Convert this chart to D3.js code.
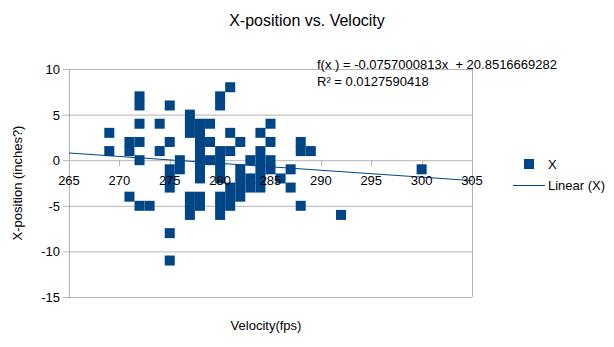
<!DOCTYPE html>
<html><head><meta charset="utf-8">
<script src="https://cdn.jsdelivr.net/npm/d3@7"></script>
<style>
body{margin:0;background:#fff}
svg{display:block;font-family:"Liberation Sans",Arial,sans-serif}
</style>
</head><body>
<svg id="chart" width="614" height="347"></svg>
<script>
// Velocity (fps) of each shot
const velocity = [
  269,269,
  271,271,271,
  272,272,272,272,272,272,
  273,
  274,274,
  275,275,275,275,275,275,275,
  276,276,
  277,277,277,277,277,277,
  278,278,278,278,278,278,278,278,278,
  279,279,279,
  280,280,280,280,280,280,280,280,280,
  281,281,281,281,281,281,
  282,282,282,282,282,
  283,283,283,
  284,284,284,284,284,284,
  285,285,285,285,
  286,
  287,287,
  288,288,288,
  289,
  292,
  300
];
// X-position (inches?) of each shot
const xPosition = [
  3,1,
  2,1,-4,
  7,6,4,2,0,-5,
  -5,
  4,1,
  6,2,-1,-2,-3,-8,-11,
  0,-1,
  5,4,3,-4,-5,-6,
  4,3,2,1,0,-1,-2,-4,-5,
  4,2,0,
  7,6,1,0,-1,-2,-4,-5,-6,
  8,3,1,-3,-4,-5,
  2,-1,-2,-3,-4,
  0,-2,-3,
  3,1,0,-1,-2,-3,
  4,2,0,-1,
  -2,
  -1,-3,
  2,1,-5,
  1,
  -6,
  -1
];
const xTickValues = [265,270,275,280,285,290,295,300,305];
const yTickValues = [-15,-10,-5,0,5,10];
const trendSlope = -0.0757000813;
const trendIntercept = 20.8516669282;
const titleText = "X-position vs. Velocity";
const xTitleText = "Velocity(fps)";
const yTitleText = "X-position (inches?)";
const equationText = "f(x ) = -0.0757000813x  + 20.8516669282";
const r2Text = "R² = 0.0127590418";
const legendSeries = "X";
const legendTrend = "Linear (X)";

const blue = "#004586", grid = "#b3b3b3";
const svg = d3.select("#chart");
const x = d3.scaleLinear().domain([265,305]).range([69,472]);
const y = d3.scaleLinear().domain([-15,10]).range([297,69]);

// horizontal gridlines (with small outer ticks)
svg.append("g").selectAll("line").data(yTickValues).join("line")
  .attr("x1",63).attr("x2",x(305)).attr("y1",d=>y(d)+0.5).attr("y2",d=>y(d)+0.5)
  .attr("stroke",grid).attr("stroke-width",1);
// left and right walls
svg.append("line").attr("x1",x(265)+0.5).attr("x2",x(265)+0.5).attr("y1",y(10)).attr("y2",y(-15))
  .attr("stroke",grid);
svg.append("line").attr("x1",x(305)+0.5).attr("x2",x(305)+0.5).attr("y1",y(10)).attr("y2",y(-15))
  .attr("stroke",grid);
// x ticks on the zero line
svg.append("g").selectAll("line").data(xTickValues).join("line")
  .attr("x1",d=>Math.round(x(d))+0.5).attr("x2",d=>Math.round(x(d))+0.5)
  .attr("y1",y(0)).attr("y2",y(0)+6).attr("stroke",grid);

// y tick labels
svg.append("g").selectAll("text").data(yTickValues).join("text")
  .attr("x",60).attr("y",d=>y(d)+5).attr("text-anchor","end")
  .attr("font-size",13).attr("fill","#000").text(d=>d);

// markers
const pts = velocity.map((v,i)=>({v, p:xPosition[i]}));
svg.append("g").selectAll("rect").data(pts).join("rect")
  .attr("x",d=>x(d.v)-5).attr("y",d=>y(d.p)-5).attr("width",10).attr("height",10)
  .attr("fill",blue);

// trend line
svg.append("line")
  .attr("x1",x(265)).attr("y1",y(trendSlope*265+trendIntercept))
  .attr("x2",x(305)).attr("y2",y(trendSlope*305+trendIntercept))
  .attr("stroke",blue).attr("stroke-width",1);

// x tick labels (drawn over markers)
svg.append("g").selectAll("text").data(xTickValues).join("text")
  .attr("x",d=>x(d)).attr("y",y(0)+25).attr("text-anchor","middle")
  .attr("font-size",13).attr("fill","#000").text(d=>d);

// titles
svg.append("text").attr("x",307).attr("y",26).attr("text-anchor","middle")
  .attr("font-size",16).text(titleText);
svg.append("text").attr("x",266).attr("y",330).attr("text-anchor","middle")
  .attr("font-size",13).text(xTitleText);
svg.append("text").attr("transform","translate(22,183) rotate(-90)").attr("text-anchor","middle")
  .attr("font-size",13).text(yTitleText);

// regression equation
svg.append("text").attr("x",317).attr("y",69).attr("font-size",13)
  .style("white-space","pre").text(equationText);
svg.append("text").attr("x",317).attr("y",86).attr("font-size",13).text(r2Text);

// legend
svg.append("rect").attr("x",524).attr("y",159).attr("width",10).attr("height",10).attr("fill",blue);
svg.append("text").attr("x",548).attr("y",169).attr("font-size",13).text(legendSeries);
svg.append("line").attr("x1",513).attr("x2",545).attr("y1",185.5).attr("y2",185.5).attr("stroke",blue);
svg.append("text").attr("x",548).attr("y",190).attr("font-size",13).text(legendTrend);
</script>
</body></html>
